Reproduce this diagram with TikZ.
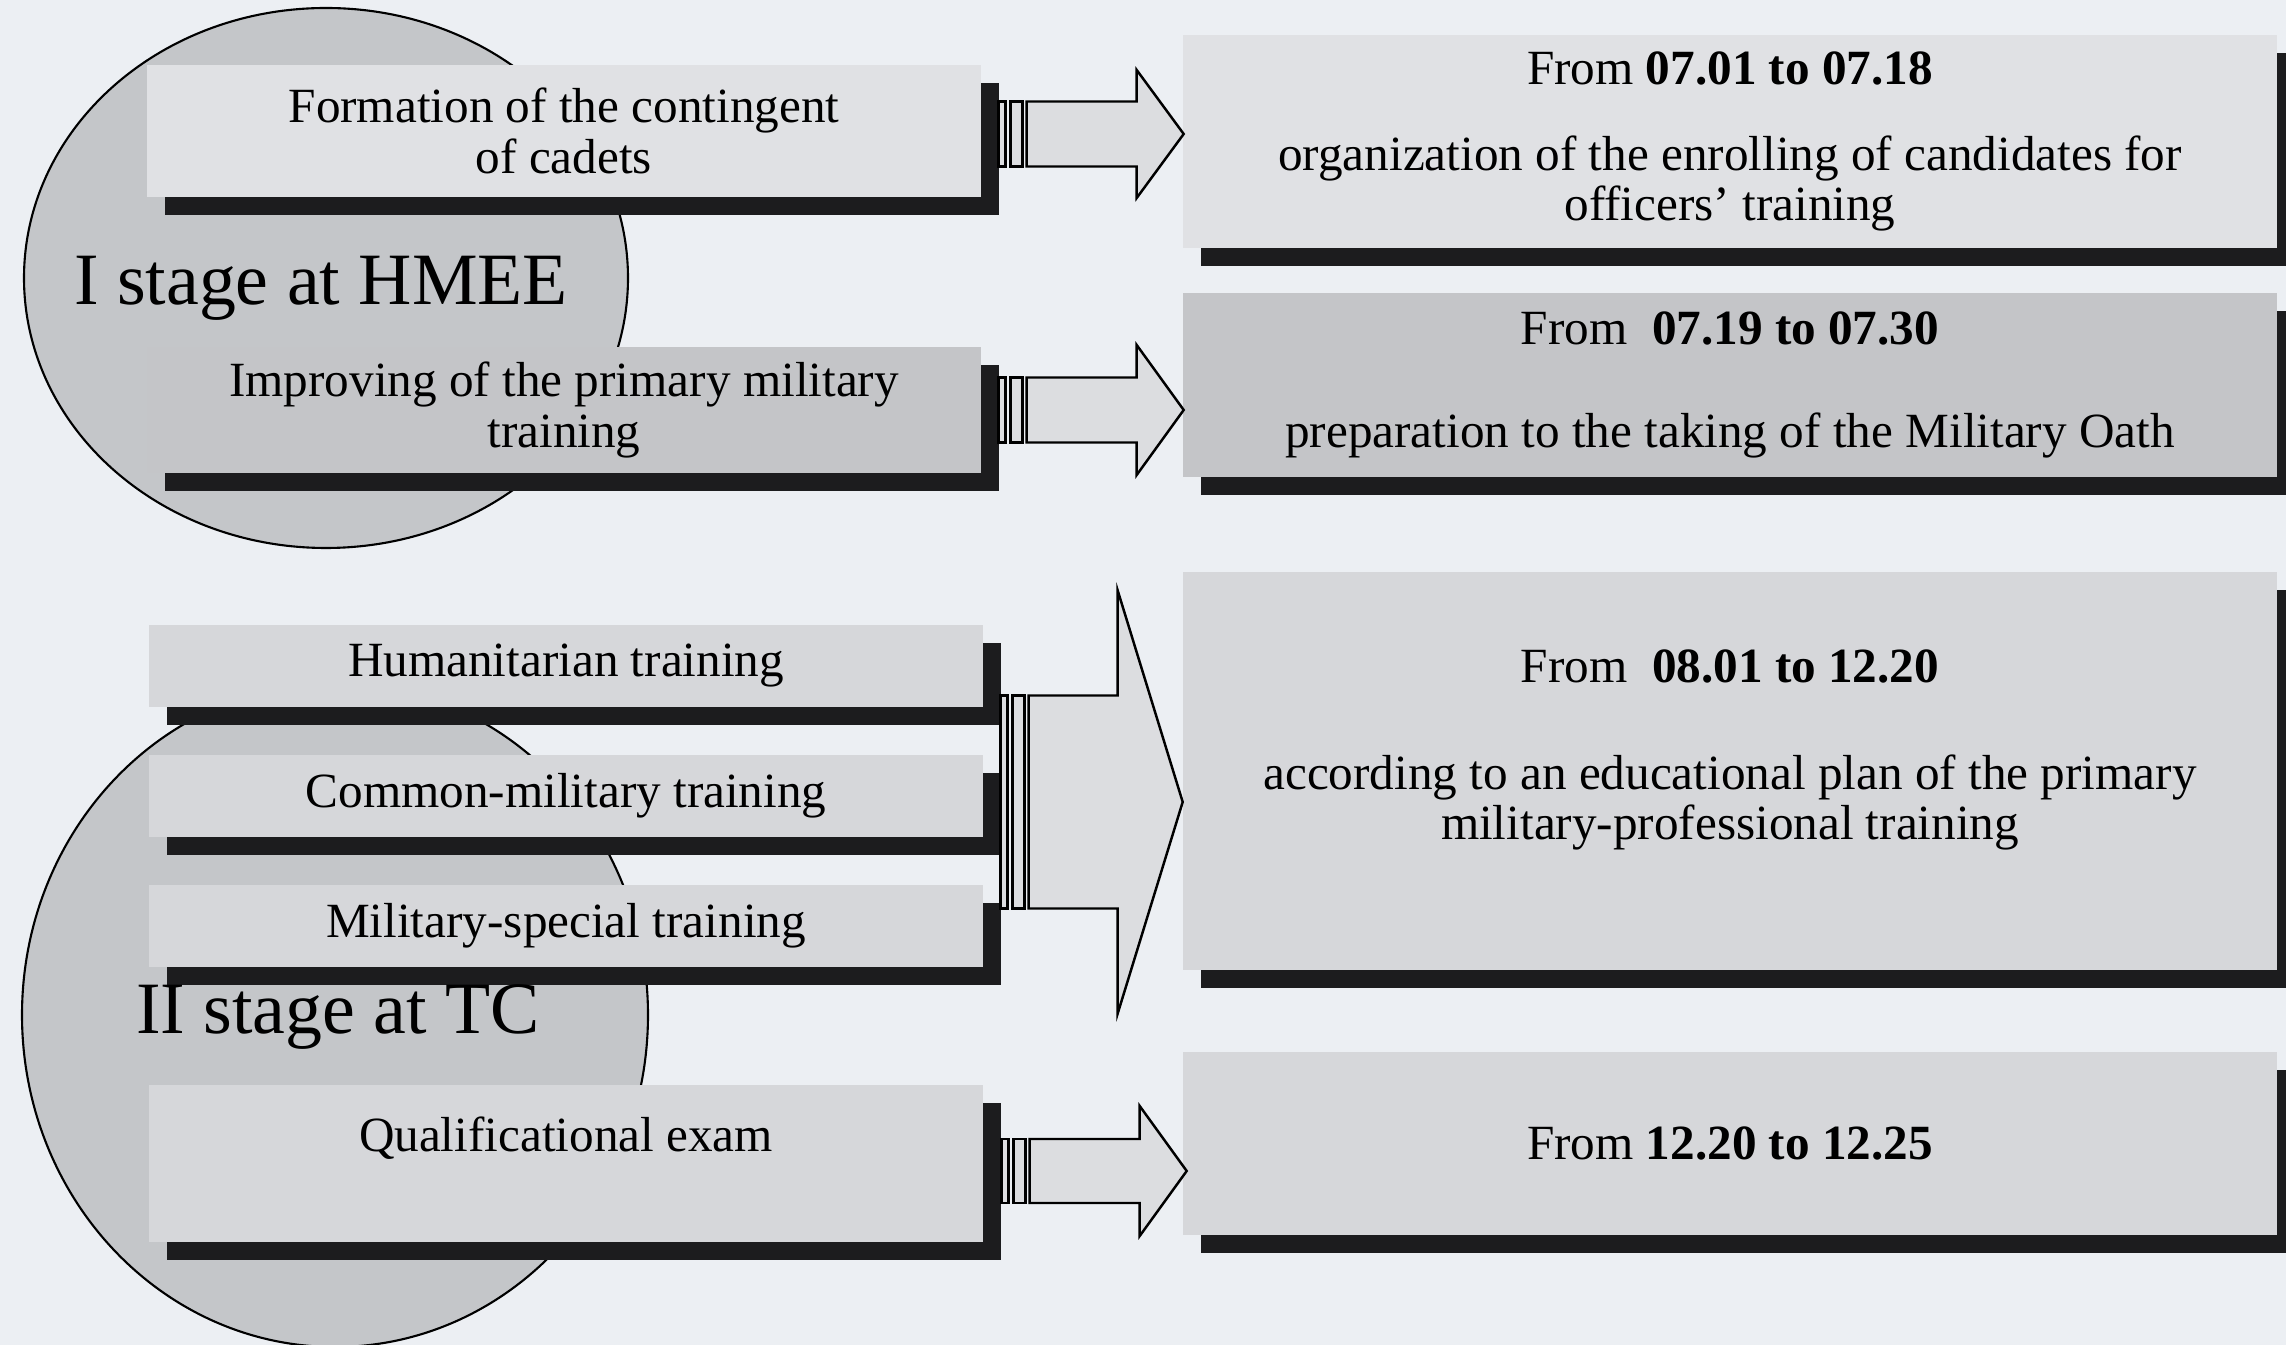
\documentclass[tikz,border=0pt]{standalone}
\usepackage{fontspec}
\setmainfont{Liberation Serif}
\usetikzlibrary{calc, shadows}
\definecolor{paper}{RGB}{236,239,243}
\definecolor{ringgray}{RGB}{196,198,201}
\definecolor{lightgray}{RGB}{224,225,228}
\definecolor{midgray}{RGB}{214,215,218}
\definecolor{darkgray}{RGB}{196,197,200}
\definecolor{arrowgray}{RGB}{220,221,224}
\definecolor{shadowgray}{RGB}{28,28,30}
\tikzset{
  lbox/.style={rectangle, fill=midgray, inner sep=0pt, minimum width=83.4mm, align=center,
    font=\fontsize{14}{14.3}\selectfont,
    drop shadow={shadow xshift=1.8mm, shadow yshift=-1.8mm, fill=shadowgray, opacity=1}},
  rbox/.style={lbox, minimum width=109.4mm},
  btext/.style={align=center, inner sep=0pt, font=\fontsize{14}{14.3}\selectfont},
  arrowline/.style={draw=black, line width=0.7pt, fill=arrowgray},
  stagering/.style={draw=black, line width=0.6pt, fill=ringgray},
  stagetext/.style={inner sep=0pt, font=\fontsize{21}{24}\selectfont}
}
% start, length, head length, half shaft, half head
\newcommand{\blockarrow}[5]{%
  \begin{scope}[shift={#1}]
    \draw[arrowline] (0,-#4) rectangle (7,#4);
    \draw[arrowline] (12,-#4) rectangle (24,#4);
    \draw[arrowline] (28,-#4) -- ({#2-#3},-#4) -- ({#2-#3},-#5) -- (#2,0)
      -- ({#2-#3},#5) -- ({#2-#3},#4) -- (28,#4) -- cycle;
  \end{scope}}
\begin{document}
\begin{tikzpicture}[x=0.1mm, y=-0.1mm]
  \useasboundingbox (0,0) rectangle (2286,1345);
  \fill[paper] (0,0) rectangle (2286,1345);

  % stages
  \draw[stagering] (326,278) ellipse [x radius=30.2mm, y radius=27mm];
  \draw[stagering] (335,1015) ellipse [x radius=31.3mm, y radius=33.2mm];

  % left column
  \node[lbox, fill=lightgray, minimum height=13.2mm] (form) at (564,131)
    {Formation of the contingent\\of cadets};
  \node[lbox, fill=darkgray, minimum height=12.6mm] (impr) at (564,410)
    {Improving of the primary military\\training};
  \node[lbox, minimum height=8.2mm] (hum) at (566,666) {Humanitarian training};
  \node[lbox, minimum height=8.2mm] (comm) at (566,796) {Common-military training};
  \node[lbox, minimum height=8.2mm] (milsp) at (566,926) {Military-special training};
  \node[lbox, minimum height=15.7mm] (qual) at (566,1163.5) {};
  \node[btext] (qualtext) at ($(qual.center)+(0,-25)$) {Qualificational exam};

  % right column
  \node[rbox, fill=lightgray, minimum height=21.3mm] (enrol) at (1730,141.5)
    {From \textbf{07.01 to 07.18}\\[3.5mm]organization of the enrolling of candidates for\\officers' training};
  \node[rbox, fill=darkgray, minimum height=18.4mm] (oath) at (1730,385)
    {From\ \ \textbf{07.19 to 07.30}\\[5.3mm]preparation to the taking of the Military Oath};
  \node[rbox, minimum height=39.8mm] (plan) at (1730,771) {};
  \node[btext] (plantext) at ($(plan.center)+(0,-21)$)
    {From\ \ \textbf{08.01 to 12.20}\\[5.7mm]according to an educational plan of the primary\\military-professional training};
  \node[rbox, minimum height=18.3mm] (exam) at (1730,1143.5) {From \textbf{12.20 to 12.25}};

  % arrows
  \blockarrow{($(form.east)+(17,3)$)}{185}{47}{32.5}{64}
  \blockarrow{($(impr.east)+(17,0)$)}{185}{47}{32.5}{65}
  \blockarrow{($(comm.east)+(17,6)$)}{182}{65}{106.5}{211.5}
  \blockarrow{($(qual.east)+(18,7.5)$)}{185}{47}{32}{65}

  \node[stagetext] (stage1) at (321,288) {I stage at HMEE};
  \node[stagetext] (stage2) at (338,1017) {II stage at TC};
\end{tikzpicture}
\end{document}
